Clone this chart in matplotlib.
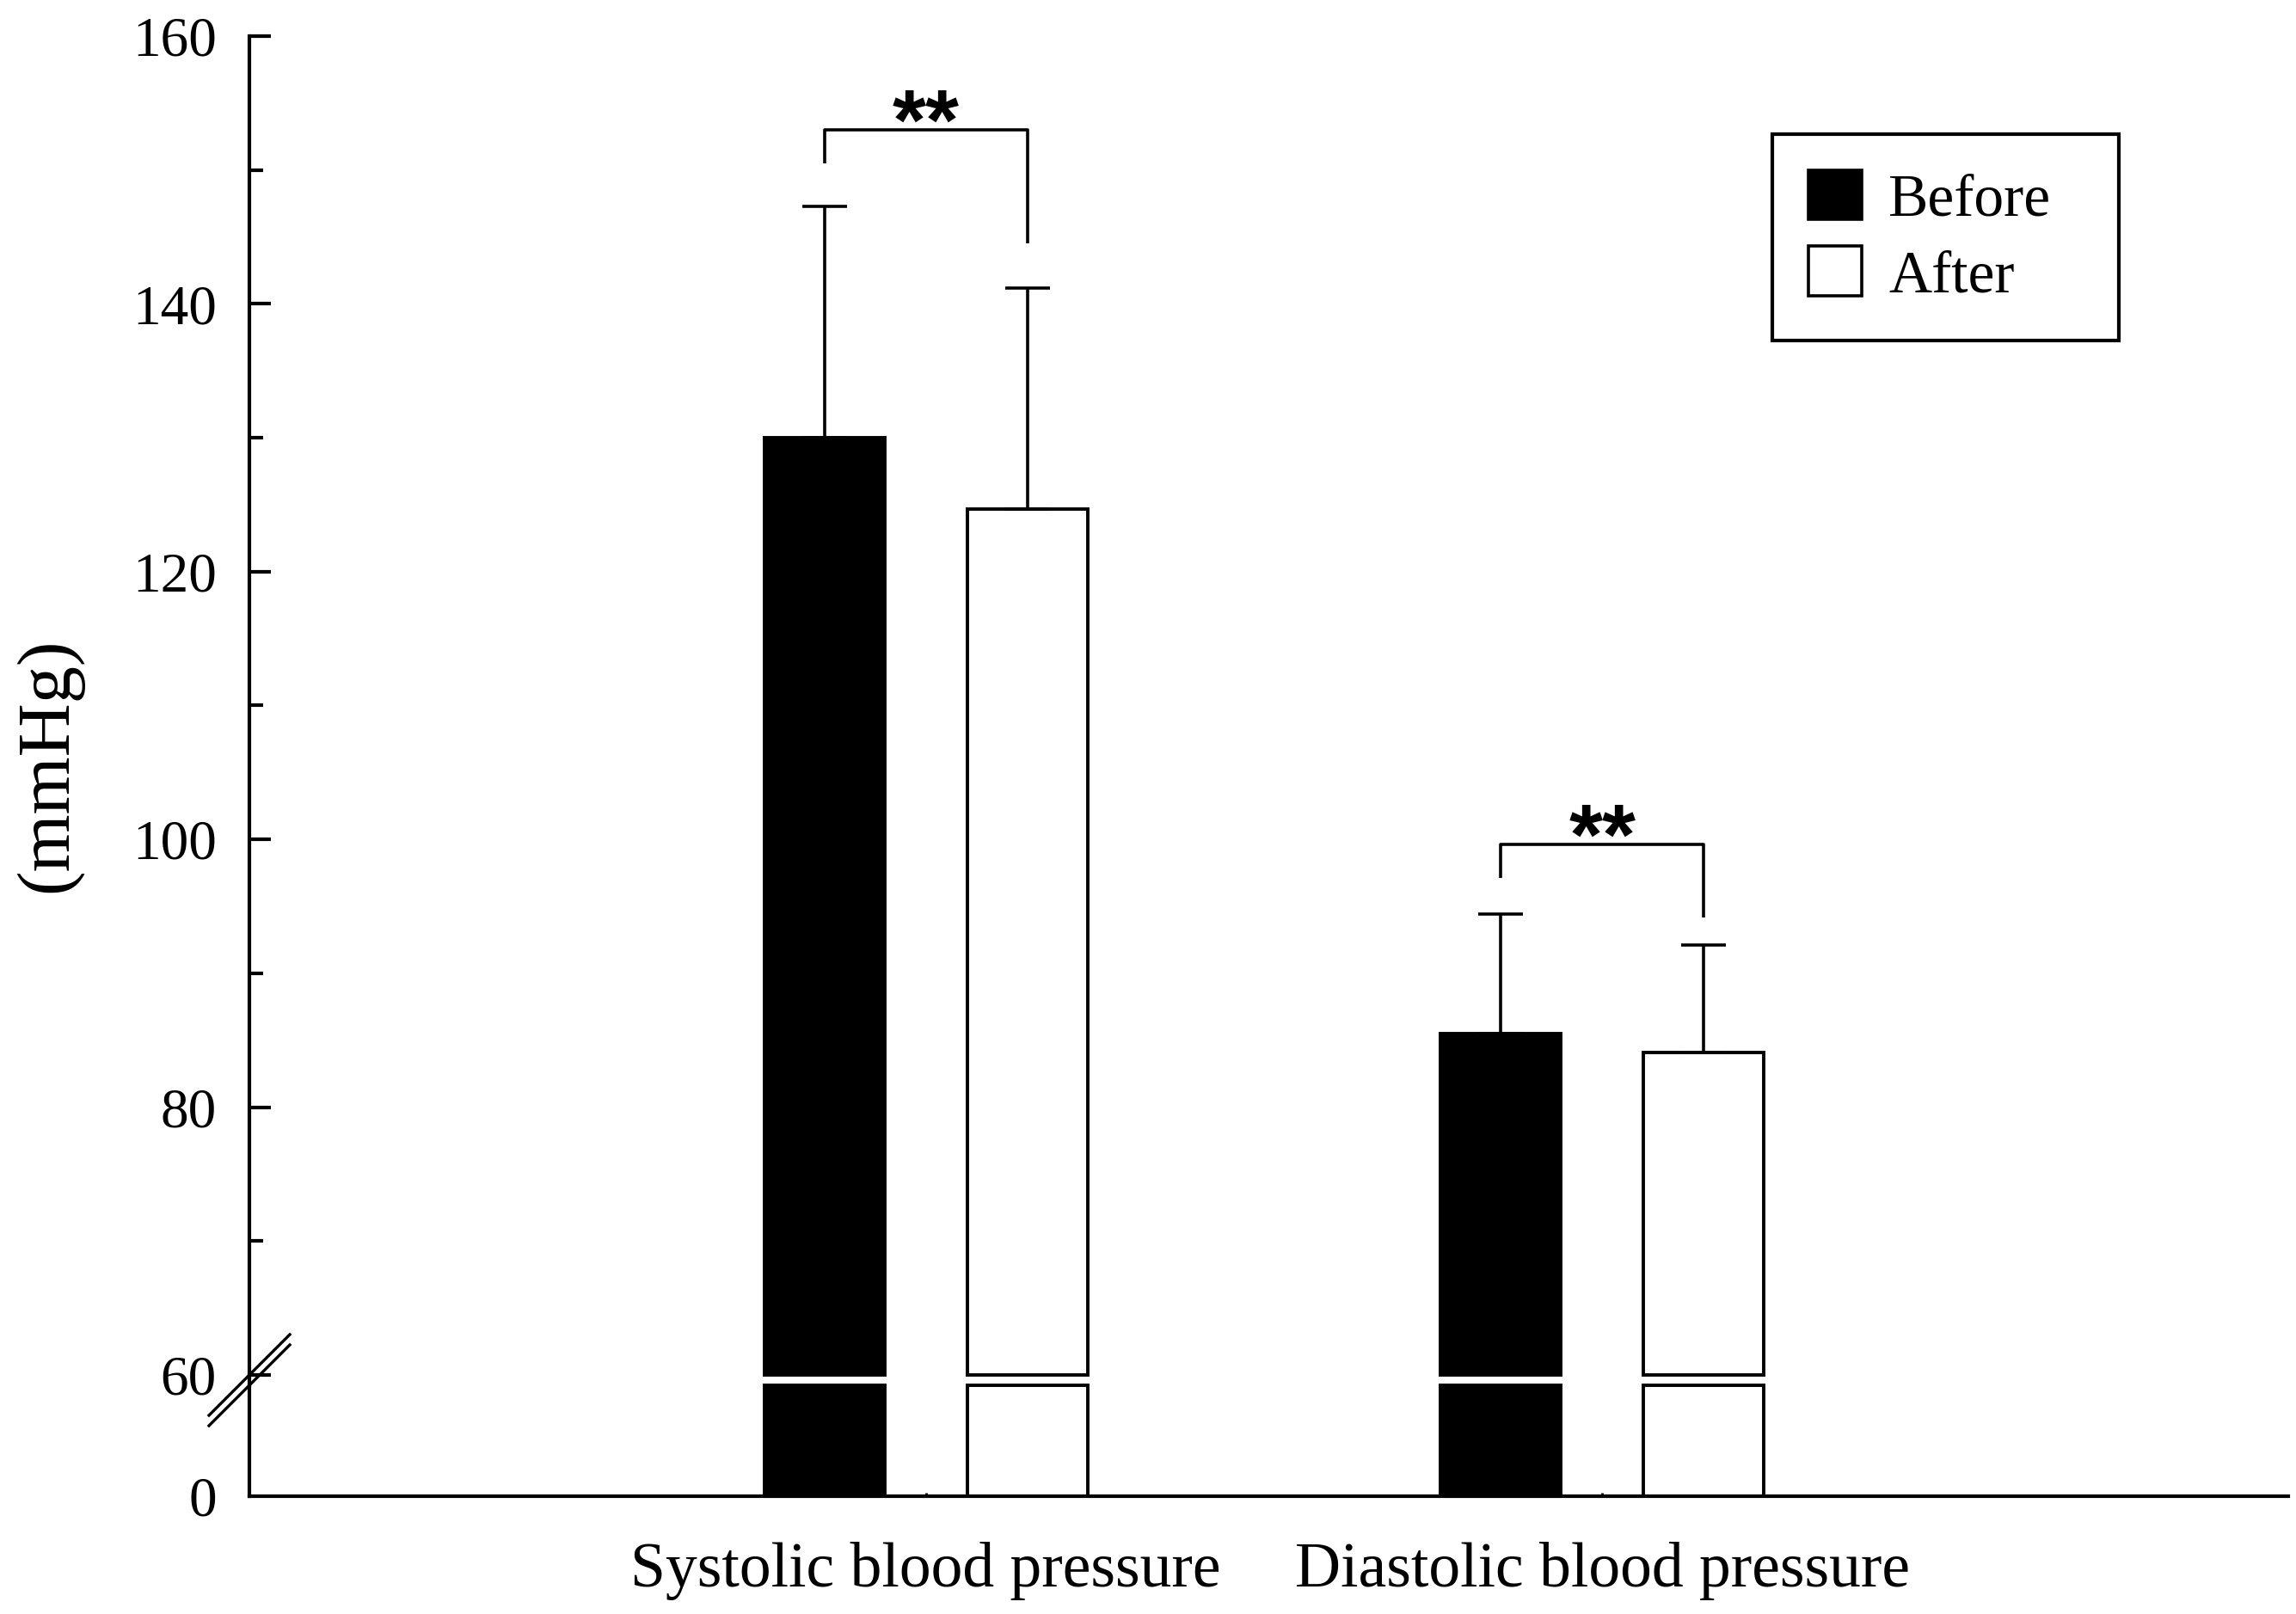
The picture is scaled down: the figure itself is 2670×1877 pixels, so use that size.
import numpy as np
import matplotlib
matplotlib.use('Agg')
import matplotlib.pyplot as plt
from matplotlib.patches import Patch
from matplotlib.lines import Line2D

plt.rcParams['font.family'] = ['Liberation Serif', 'DejaVu Serif']

categories = ['Systolic blood pressure', 'Diastolic blood pressure']
before_mean = [130.0, 85.5]
before_sd = [17.3, 8.9]
after_mean = [124.7, 84.1]
after_sd = [16.5, 8.0]

# significance brackets
sig_marks = ['**', '**']
bracket_top = [153.0, 99.6]
bracket_left_end = [150.5, 97.1]
bracket_right_end = [144.5, 94.2]

yticks_upper = [60, 80, 100, 120, 140, 160]
yminor_upper = [70, 90, 110, 130, 150]
yticks_lower = [0]

W, H = 2670, 1877
fig = plt.figure(figsize=(W / 200, H / 200), dpi=200)


def px_box(l, r, t, b):
    return [l / W, 1 - b / H, (r - l) / W, (b - t) / H]


SPINE_X = 290
UP_TOP, UP_BOT = 42, 1599
LO_TOP, LO_BOT = 1611, 1740
ax = fig.add_axes(px_box(SPINE_X, 2661, UP_TOP, UP_BOT))
axb = fig.add_axes(px_box(SPINE_X, 2661, LO_TOP, LO_BOT))

lw_spine = 1.5
lw_bar = 1.4
lw_err = 1.3
x = np.arange(len(categories))
off = 0.15
bw = 0.178
xlim = (-1.0, 2.014)

# upper part of the broken axis
ax.bar(x - off, np.array(before_mean) - 60, bottom=60, width=bw, color='black',
       edgecolor='black', linewidth=lw_bar, clip_on=False)
ax.bar(x + off, np.array(after_mean) - 60, bottom=60, width=bw, color='white',
       edgecolor='black', linewidth=lw_bar, clip_on=False)
ax.errorbar(x - off, before_mean, yerr=[np.zeros(2), before_sd], fmt='none',
            ecolor='black', elinewidth=lw_err, capsize=9.2, capthick=lw_err, clip_on=False)
ax.errorbar(x + off, after_mean, yerr=[np.zeros(2), after_sd], fmt='none',
            ecolor='black', elinewidth=lw_err, capsize=9.2, capthick=lw_err, clip_on=False)

for i in range(len(categories)):
    ax.plot([x[i] - off, x[i] - off, x[i] + off, x[i] + off],
            [bracket_left_end[i], bracket_top[i], bracket_top[i], bracket_right_end[i]],
            color='black', lw=1.3, solid_capstyle='butt', clip_on=False)
    ax.annotate(sig_marks[i], xy=(x[i], bracket_top[i]), xytext=(0, -8),
                textcoords='offset points', ha='center', va='baseline',
                fontsize=36, fontweight='bold', family=['Liberation Sans', 'DejaVu Sans'])

ax.set_xlim(*xlim)
ax.set_ylim(60, 160)
ax.set_yticks(yticks_upper)
ax.set_yticks(yminor_upper, minor=True)
ax.set_xticks([])
for s in ['top', 'right', 'bottom']:
    ax.spines[s].set_visible(False)
ax.spines['left'].set_linewidth(lw_spine)
ax.tick_params(axis='y', which='major', direction='in', length=9, width=lw_spine,
               labelsize=23.5, pad=13.7)
ax.tick_params(axis='y', which='minor', direction='in', length=5.8, width=lw_spine)

# lower part of the broken axis
axb.bar(x - off, 60, width=bw, color='black', edgecolor='black',
        linewidth=lw_bar, clip_on=False)
axb.bar(x + off, 60, width=bw, color='white', edgecolor='black',
        linewidth=lw_bar, clip_on=False)
axb.set_xlim(*xlim)
axb.set_ylim(0, 60)
axb.set_yticks(yticks_lower)
axb.set_xticks(x, categories)
for s in ['top', 'right']:
    axb.spines[s].set_visible(False)
axb.spines['left'].set_linewidth(lw_spine)
axb.spines['bottom'].set_linewidth(lw_spine)
axb.tick_params(axis='y', direction='in', length=0, labelsize=23.5, pad=13.7)
axb.tick_params(axis='x', direction='in', length=1.5, width=1.0, labelsize=26.5, pad=19)

# join the spine across the break and draw the // marks
fig.add_artist(Line2D([SPINE_X / W, SPINE_X / W], [1 - LO_TOP / H, 1 - UP_BOT / H],
                      color='black', lw=lw_spine))
d = 47
for yb in [UP_BOT, LO_TOP]:
    fig.add_artist(Line2D([(SPINE_X - d) / W, (SPINE_X + d) / W],
                          [1 - (yb + d) / H, 1 - (yb - d) / H],
                          color='black', lw=1.2))

fig.text(57 / W, 1 - 890 / H, '(mmHg)', rotation=90, ha='center', va='center', fontsize=31)

handles = [Patch(facecolor='black', edgecolor='black', linewidth=1.3),
           Patch(facecolor='white', edgecolor='black', linewidth=1.3)]
leg = ax.legend(handles, ['Before', 'After'], loc='upper left', mode='expand',
                bbox_to_anchor=(2061 / W, 1 - 396 / H, 403 / W, 240 / H),
                bbox_transform=fig.transFigure,
                frameon=True, fancybox=False, framealpha=1, edgecolor='black',
                borderaxespad=0, fontsize=25, handlelength=0.9, handleheight=0.9,
                handletextpad=0.45, labelspacing=0.3, borderpad=0.6)
leg.get_frame().set_linewidth(1.5)

fig.savefig('out.png', dpi=200, facecolor='white')
